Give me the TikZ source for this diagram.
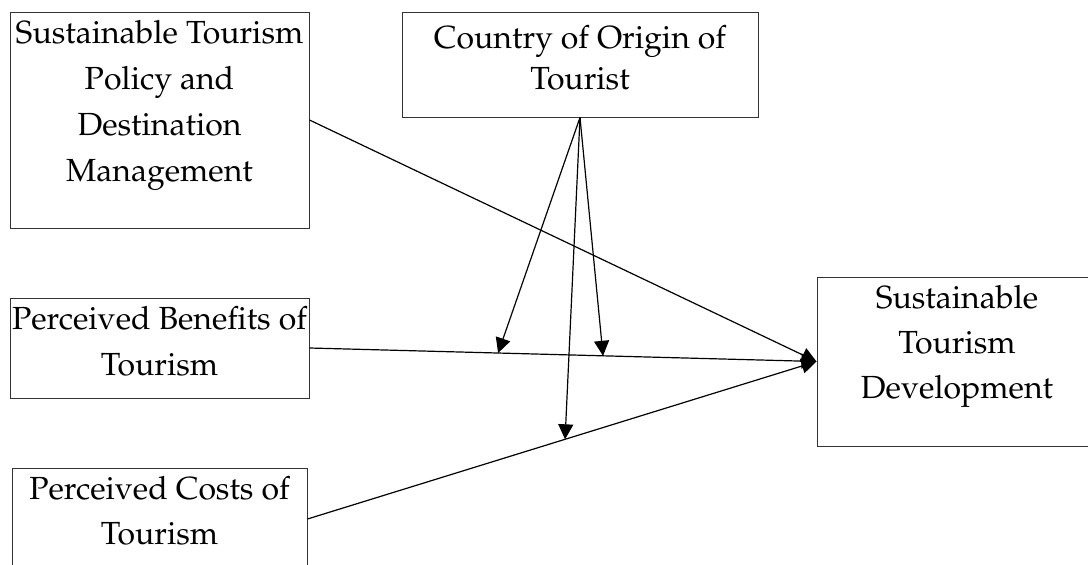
\documentclass[tikz,border=0pt]{standalone}
\usepackage[T1]{fontenc}
\usepackage{mathpazo}
\usetikzlibrary{arrows.meta,calc}
\begin{document}
\begin{tikzpicture}[x=1pt,y=-1pt,
  box/.style={draw=black!80, line width=1pt, inner sep=0pt},
  txt/.style={anchor=north, align=center, inner sep=0pt},
  arr/.style={draw=black, line width=1.2pt, -{Triangle[length=15pt,width=15pt]}}]
\useasboundingbox (0,0) rectangle (1088,565);
\clip (0,0) rectangle (1088,565);
\fill[white] (0,0) rectangle (1088,565);
% boxes
\node[box, minimum width=299pt, minimum height=216pt] (stp) at (159.5,120) {};
\node[box, minimum width=356pt, minimum height=105pt] (co) at (580,64.5) {};
\node[box, minimum width=299pt, minimum height=100pt] (pb) at (159.5,348) {};
\node[box, minimum width=295pt, minimum height=102pt] (pc) at (159.5,519) {};
\node[box, minimum width=280pt, minimum height=169pt] (std) at (957,361.5) {};
% texts
\node[txt, font=\fontsize{32}{46}\selectfont] (tstp) at (159.5,20) {Sustainable Tourism\\Policy and\\Destination\\Management};
\node[txt, font=\fontsize{32}{41}\selectfont] (tco) at (580,25) {Country of Origin of\\Tourist};
\node[txt, font=\fontsize{32}{46}\selectfont] (tpb) at (159.5,306) {Perceived Benefits of\\Tourism};
\node[txt, font=\fontsize{32}{45}\selectfont] (tpc) at (159.5,476) {Perceived Costs of\\Tourism};
\node[txt, font=\fontsize{32}{45}\selectfont] (tstd) at (957,285) {Sustainable\\Tourism\\Development};
% main connectors
\draw[arr] (stp.east) -- (std.west);
\draw[arr] (pb.east) -- (std.west);
\draw[arr] (pc.east) -- (std.west);
% moderation targets
\coordinate (m1) at ($(pb.east)!0.372!(std.west)$);
\coordinate (m2) at ($(pb.east)!0.579!(std.west)$);
\coordinate (m3) at ($(pc.east)!0.506!(std.west)$);
\draw[arr] (co.south) -- (m1);
\draw[arr] (co.south) -- (m2);
\draw[arr] (co.south) -- (m3);
\end{tikzpicture}
\end{document}
